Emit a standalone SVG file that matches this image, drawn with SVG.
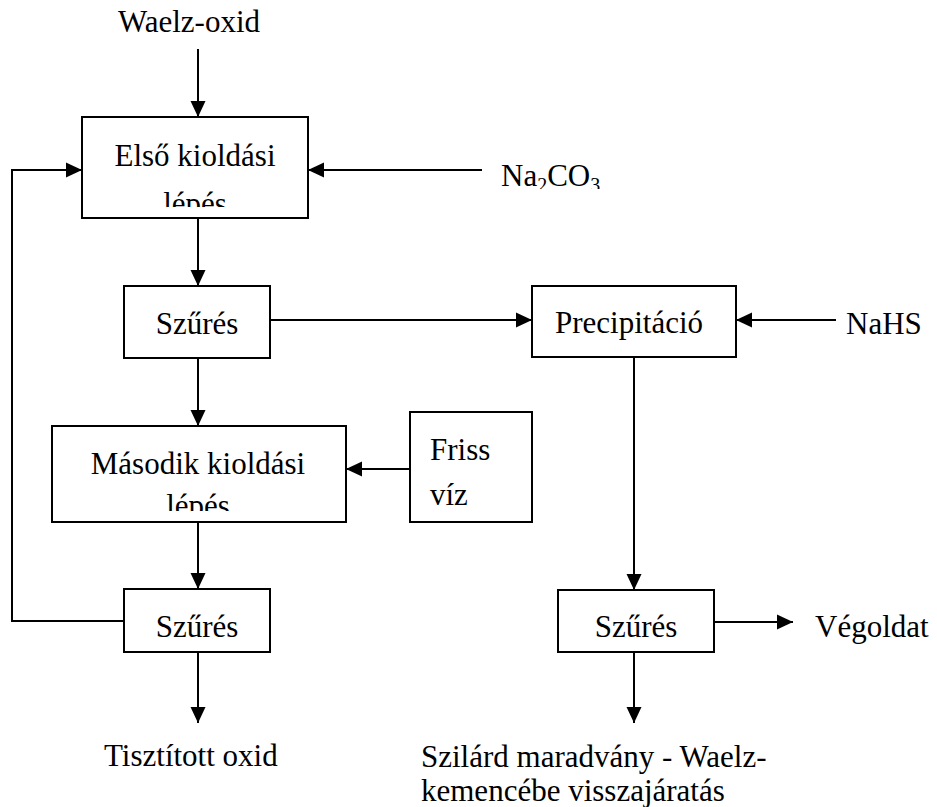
<svg xmlns="http://www.w3.org/2000/svg" width="937" height="807" viewBox="0 0 937 807">
<style>
text{font-family:"Liberation Serif","Times New Roman",serif;font-size:31px;fill:#000}
.box{fill:#fff;stroke:#000;stroke-width:2}
.ln{fill:none;stroke:#000;stroke-width:2}
.c{text-anchor:middle}
.sub{font-size:20px}
</style>
<defs>
<marker id="ah" markerUnits="userSpaceOnUse" markerWidth="16" markerHeight="16" viewBox="0 0 16 16" refX="16" refY="8" orient="auto">
<path d="M0,0.5 L16,8 L0,15.5 Z" fill="#000"/>
</marker>
<clipPath id="clip1"><rect x="82" y="117" width="226" height="90"/></clipPath>
<clipPath id="clip2"><rect x="52" y="426" width="294" height="85"/></clipPath>
<clipPath id="clip3"><rect x="480" y="140" width="200" height="49"/></clipPath>
</defs>
<g id="connectors">
<line class="ln" x1="198" y1="49" x2="198" y2="117" marker-end="url(#ah)"/>
<line class="ln" x1="482" y1="170" x2="308" y2="170" marker-end="url(#ah)"/>
<polyline class="ln" points="124,621 12,621 12,170 82,170" marker-end="url(#ah)"/>
<line class="ln" x1="198" y1="218" x2="198" y2="286" marker-end="url(#ah)"/>
<line class="ln" x1="270" y1="320" x2="532" y2="320" marker-end="url(#ah)"/>
<line class="ln" x1="836" y1="320" x2="736" y2="320" marker-end="url(#ah)"/>
<line class="ln" x1="198" y1="358" x2="198" y2="426" marker-end="url(#ah)"/>
<line class="ln" x1="410" y1="469" x2="346" y2="469" marker-end="url(#ah)"/>
<line class="ln" x1="198" y1="522" x2="198" y2="589" marker-end="url(#ah)"/>
<line class="ln" x1="634" y1="357" x2="634" y2="590" marker-end="url(#ah)"/>
<line class="ln" x1="714" y1="622" x2="793" y2="622" marker-end="url(#ah)"/>
<line class="ln" x1="198" y1="652" x2="198" y2="723" marker-end="url(#ah)"/>
<line class="ln" x1="634" y1="652" x2="634" y2="723" marker-end="url(#ah)"/>
</g>
<g id="waelz-oxid"><text class="c" x="189" y="32">Waelz-oxid</text></g>
<g id="na2co3"><text x="501" y="186" clip-path="url(#clip3)">Na<tspan class="sub" dy="6">2</tspan><tspan dy="-6">CO</tspan><tspan class="sub" dy="6">3</tspan></text></g>
<g id="elso">
<rect class="box" x="82" y="117" width="226" height="101"/>
<g clip-path="url(#clip1)">
<text class="c" x="195" y="166">Első kioldási</text>
<text class="c" x="195" y="214">lépés</text>
</g>
</g>
<g id="szures1">
<rect class="box" x="124" y="286" width="146" height="72"/>
<text class="c" x="197" y="334">Szűrés</text>
</g>
<g id="precipitacio">
<rect class="box" x="532" y="286" width="204" height="71"/>
<text class="c" x="629" y="333">Precipitáció</text>
</g>
<g id="nahs"><text x="846" y="334">NaHS</text></g>
<g id="masodik">
<rect class="box" x="52" y="426" width="294" height="96"/>
<g clip-path="url(#clip2)">
<text class="c" x="198" y="474">Második kioldási</text>
<text class="c" x="198" y="516">lépés</text>
</g>
</g>
<g id="friss-viz">
<rect class="box" x="410" y="412" width="122" height="110"/>
<text x="430" y="460">Friss</text>
<text x="430" y="505">víz</text>
</g>
<g id="szures2">
<rect class="box" x="124" y="589" width="146" height="63"/>
<text class="c" x="197" y="637">Szűrés</text>
</g>
<g id="szures3">
<rect class="box" x="558" y="590" width="156" height="62"/>
<text class="c" x="636" y="637">Szűrés</text>
</g>
<g id="vegoldat"><text x="815" y="637">Végoldat</text></g>
<g id="tisztitott"><text x="104" y="766">Tisztított oxid</text></g>
<g id="szilard">
<text x="421" y="767">Szilárd maradvány - Waelz-</text>
<text x="421" y="801">kemencébe visszajáratás</text>
</g>
</svg>
